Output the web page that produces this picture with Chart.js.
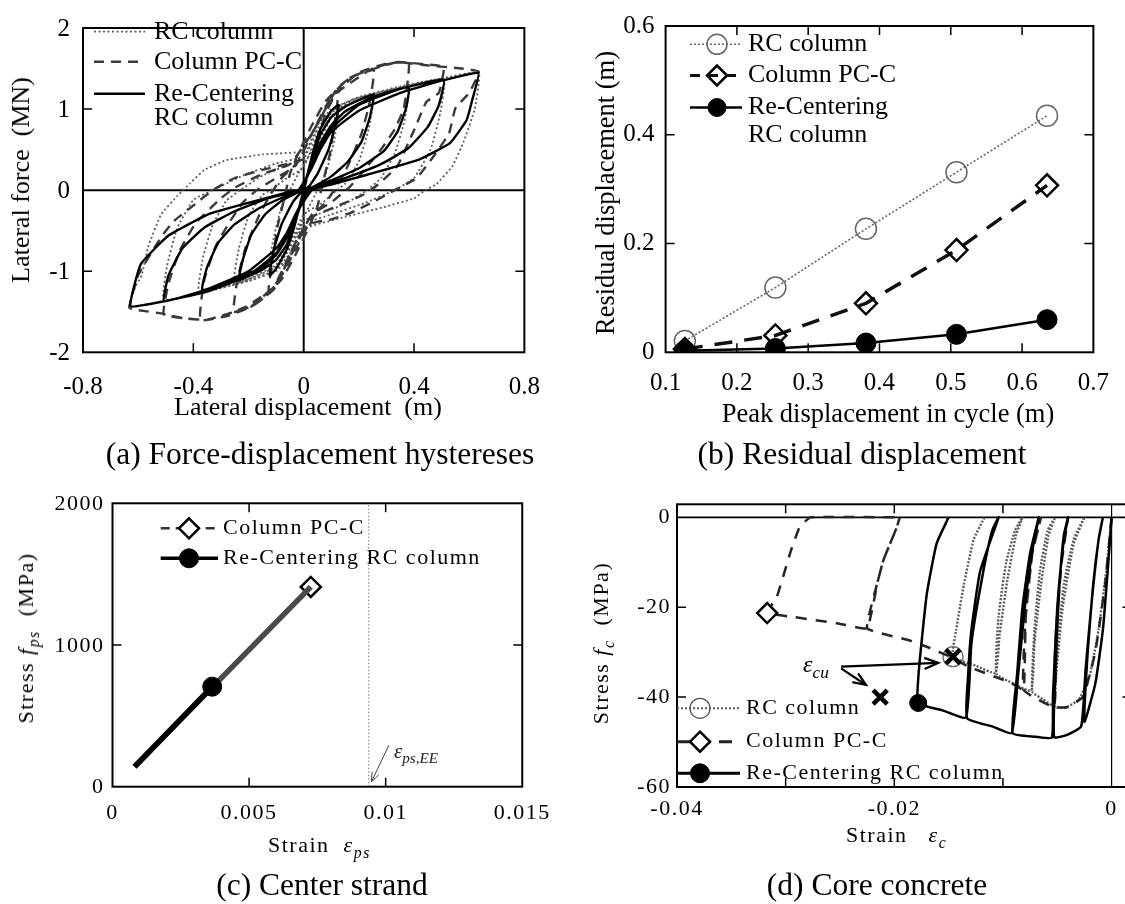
<!DOCTYPE html>
<html><head><meta charset="utf-8">
<script src="https://cdn.jsdelivr.net/npm/chart.js@4.4.1/dist/chart.umd.min.js"></script>
<style>
html,body{margin:0;padding:0;background:#fff;overflow:hidden;width:1125px;height:904px;}
#wrap{position:relative;width:1125px;height:904px;overflow:hidden;font-family:'Liberation Serif','Times New Roman',serif;color:#000;}
canvas{position:absolute;}
.t{position:absolute;white-space:nowrap;transform:translate(-50%,-50%);line-height:1;}
.r{transform:translate(-50%,-50%) rotate(-90deg);}
.l{transform:translate(0,-50%);}
.sp{letter-spacing:1.5px;}
sub{font-size:0.72em;vertical-align:-0.35em;line-height:0;}
</style></head><body><div id="wrap">
<canvas id="ca" width="560" height="440" style="left:0;top:0"></canvas>
<canvas id="cb" width="565" height="440" style="left:560px;top:0"></canvas>
<canvas id="cc" width="560" height="464" style="left:0;top:440px"></canvas>
<canvas id="cd" width="620" height="464" style="left:560px;top:440px"></canvas>

<div class="t r" style="left:21px;top:180px;font-size:26px">Lateral force&nbsp;&nbsp;(MN)</div>
<div class="t" style="left:308px;top:407px;font-size:26px">Lateral displacement&nbsp;&nbsp;(m)</div>
<div class="t" style="left:320px;top:454px;font-size:31.5px">(a) Force-displacement hystereses</div>

<div class="t r" style="left:605px;top:193px;font-size:26.5px">Residual displacement (m)</div>
<div class="t" style="left:888px;top:413px;font-size:26.5px">Peak displacement in cycle (m)</div>
<div class="t" style="left:862px;top:454px;font-size:31.5px">(b) Residual displacement</div>

<div class="t r sp" style="left:26px;top:638px;font-size:22px">Stress <i>f</i><sub><i>ps</i></sub>&nbsp;&nbsp;(MPa)</div>
<div class="t l sp" style="left:268px;top:845px;font-size:22px">Strain&nbsp;&nbsp;<i>ε</i><sub><i>ps</i></sub></div>
<div class="t" style="left:322px;top:885px;font-size:31.5px">(c) Center strand</div>
<div class="t l" style="left:394px;top:751px;font-size:21px;color:#222"><i>ε</i><sub><i>ps,EE</i></sub></div>

<div class="t r sp" style="left:601px;top:643px;font-size:22px">Stress <i>f</i><sub><i>c</i></sub>&nbsp;&nbsp;(MPa)</div>
<div class="t l sp" style="left:846px;top:835px;font-size:22px">Strain&nbsp;&nbsp;&nbsp;<i>ε</i><sub><i>c</i></sub></div>
<div class="t" style="left:877px;top:885px;font-size:31.5px">(d) Core concrete</div>
<div class="t l" style="left:803px;top:664px;font-size:24px"><i>ε</i><sub><i>cu</i></sub></div>
</div>
<script>
// ---------------- DATA ----------------
// (a) tick values / labels
const aXTicks = [-0.8, -0.4, 0, 0.4, 0.8];
const aXLabels = ['-0.8', '-0.4', '0', '0.4', '0.8'];
const aYTicks = [-2, -1, 0, 1, 2];
const aYLabels = ['-2', '-1', '0', '1', '2'];
// (a) hysteresis paths [displacement m, force MN]
const rccLoopA = [
[0,0],[0.03,0.42],[0.06,0.75],[0.1,0.98],[0.127,1.05],
[0.115,0.8],[0.09,0.5],[0.05,0.2],[0.02,0.05],[0,0],
[-0.03,-0.4],[-0.06,-0.72],[-0.1,-0.97],[-0.123,-1.05],
[-0.11,-0.75],[-0.08,-0.42],[-0.04,-0.15],[-0.005,0],
[0.03,0.38],[0.06,0.68],[0.1,0.9],[0.15,1.03],[0.2,1.11],[0.254,1.18],
[0.24,0.9],[0.21,0.6],[0.16,0.35],[0.1,0.17],[0.04,0.05],[0.008,0],
[-0.03,-0.38],[-0.06,-0.66],[-0.1,-0.86],[-0.15,-0.98],[-0.2,-1.06],[-0.236,-1.11],
[-0.22,-0.85],[-0.19,-0.55],[-0.14,-0.3],[-0.08,-0.13],[-0.01,0],
[0.03,0.32],[0.06,0.58],[0.1,0.8],[0.15,0.97],[0.25,1.15],[0.381,1.27],
[0.37,1.0],[0.34,0.72],[0.29,0.48],[0.2,0.27],[0.1,0.12],[0.015,0],
[-0.03,-0.32],[-0.06,-0.58],[-0.1,-0.8],[-0.15,-0.95],[-0.25,-1.1],[-0.368,-1.23],
[-0.35,-0.95],[-0.31,-0.65],[-0.25,-0.42],[-0.16,-0.22],[-0.07,-0.08],[-0.015,0],
[0.03,0.3],[0.06,0.52],[0.1,0.76],[0.2,1.05],[0.35,1.25],[0.508,1.36],
[0.49,1.05],[0.45,0.78],[0.38,0.52],[0.28,0.32],[0.16,0.16],[0.05,0.04],[0.02,0],
[-0.03,-0.3],[-0.06,-0.52],[-0.1,-0.72],[-0.2,-1.0],[-0.35,-1.22],[-0.506,-1.37],
[-0.49,-1.05],[-0.44,-0.72],[-0.36,-0.46],[-0.25,-0.26],[-0.13,-0.1],[-0.02,0],
[0.03,0.28],[0.06,0.5],[0.1,0.72],[0.2,0.98],[0.35,1.2],[0.5,1.35],[0.633,1.445],
[0.61,1.1],[0.59,0.86],[0.53,0.58],[0.42,0.38],[0.23,0.19],[0.1,0.07],[0.03,0],
[-0.03,-0.3],[-0.06,-0.55],[-0.1,-0.78],[-0.2,-1.05],[-0.35,-1.25],[-0.506,-1.37],[-0.628,-1.43],
[-0.59,-0.91],[-0.49,-0.56],[-0.34,-0.29],[-0.15,-0.11],[-0.03,0]
];
const pccLoopA = [
[0,0],[0.04,0.5],[0.08,0.95],[0.127,1.25],[0.115,0.9],[0.095,0.45],[0.07,0.1],[0.05,-0.2],[0.02,-0.45],
[-0.03,-0.8],[-0.08,-1.1],[-0.127,-1.25],[-0.115,-0.9],[-0.095,-0.45],[-0.07,-0.1],[-0.05,0.2],[-0.02,0.45],[0.03,0.8],
[0.08,1.1],[0.165,1.38],[0.254,1.48],[0.24,1.1],[0.21,0.7],[0.16,0.3],[0.12,0.05],[0.08,-0.15],[0.02,-0.35],
[-0.03,-0.7],[-0.1,-1.15],[-0.186,-1.43],[-0.254,-1.5],[-0.24,-1.1],[-0.21,-0.7],[-0.16,-0.3],[-0.12,-0.05],[-0.08,0.15],[-0.02,0.35],[0.03,0.7],
[0.1,1.15],[0.2,1.45],[0.3,1.56],[0.381,1.57],[0.363,1.01],[0.33,0.75],[0.28,0.5],[0.22,0.25],[0.17,0.05],[0.1,-0.15],[0.03,-0.3],
[-0.03,-0.65],[-0.11,-1.23],[-0.2,-1.45],[-0.274,-1.55],[-0.375,-1.6],[-0.36,-1.1],[-0.32,-0.7],[-0.27,-0.4],[-0.22,-0.15],[-0.17,0],[-0.1,0.15],[-0.03,0.3],[0.03,0.7],
[0.12,1.2],[0.25,1.5],[0.34,1.58],[0.445,1.55],[0.508,1.52],[0.49,1.2],[0.445,1.09],[0.4,0.74],[0.34,0.3],[0.27,0.07],[0.22,-0.05],[0.12,-0.2],[0.03,-0.33],
[-0.03,-0.65],[-0.11,-1.2],[-0.21,-1.44],[-0.27,-1.52],[-0.353,-1.6],[-0.435,-1.58],[-0.508,-1.53],[-0.49,-1.15],[-0.45,-0.75],[-0.39,-0.4],[-0.3,-0.1],[-0.25,0.03],[-0.15,0.2],[-0.05,0.32],[0.03,0.7],
[0.12,1.25],[0.175,1.4],[0.257,1.5],[0.34,1.58],[0.445,1.54],[0.573,1.5],[0.635,1.46],[0.6,1.2],[0.55,1.01],[0.527,0.7],[0.48,0.46],[0.41,0.15],[0.33,0],[0.25,-0.15],[0.17,-0.28],[0.1,-0.36],[0.02,-0.42],
[-0.04,-0.8],[-0.11,-1.23],[-0.186,-1.43],[-0.27,-1.52],[-0.353,-1.6],[-0.435,-1.58],[-0.517,-1.52],[-0.6,-1.48],[-0.632,-1.45],[-0.6,-1.05],[-0.517,-0.58],[-0.47,-0.38],[-0.4,-0.19],[-0.33,0],[-0.25,0.15],[-0.15,0.25],[-0.05,0.33],[0,0.38]
];
const rcLoopA = [
[0,0],[0.05,0.55],[0.1,0.9],[0.127,1.0],[0.11,0.6],[0.08,0.2],[0.05,0],[0.02,-0.2],[-0.03,-0.55],[-0.08,-0.88],[-0.127,-1.0],[-0.11,-0.6],[-0.08,-0.2],[-0.05,0],[-0.02,0.2],
[0.05,0.6],[0.1,0.92],[0.19,1.1],[0.254,1.17],[0.235,0.75],[0.2,0.35],[0.15,0.08],[0.12,0],[0.07,-0.15],[0,-0.3],[-0.05,-0.65],[-0.1,-0.92],[-0.19,-1.08],[-0.254,-1.15],[-0.235,-0.72],[-0.2,-0.32],[-0.15,-0.06],[-0.12,0],[-0.06,0.15],[0,0.28],
[0.05,0.7],[0.1,0.95],[0.19,1.13],[0.3,1.22],[0.381,1.27],[0.365,0.85],[0.33,0.45],[0.28,0.15],[0.23,0],[0.15,-0.17],[0.05,-0.3],[0,-0.38],[-0.05,-0.72],[-0.1,-0.95],[-0.2,-1.1],[-0.3,-1.2],[-0.381,-1.25],[-0.365,-0.83],[-0.33,-0.43],[-0.28,-0.13],[-0.23,0],[-0.15,0.18],[-0.05,0.32],[0,0.38],
[0.05,0.75],[0.1,0.98],[0.19,1.14],[0.35,1.28],[0.508,1.37],[0.495,0.95],[0.46,0.5],[0.4,0.15],[0.33,0],[0.22,-0.16],[0.1,-0.3],[0,-0.42],[-0.05,-0.78],[-0.1,-0.98],[-0.2,-1.12],[-0.35,-1.25],[-0.508,-1.36],[-0.495,-0.93],[-0.46,-0.48],[-0.4,-0.12],[-0.33,0],[-0.22,0.18],[-0.1,0.33],[0,0.42],
[0.05,0.8],[0.1,1.0],[0.19,1.13],[0.35,1.27],[0.5,1.38],[0.635,1.45],[0.62,1.0],[0.58,0.6],[0.54,0.3],[0.48,0.07],[0.44,0],[0.4,-0.1],[0.29,-0.21],[0.15,-0.33],[0,-0.48],
[-0.05,-0.82],[-0.1,-1.0],[-0.2,-1.12],[-0.35,-1.25],[-0.5,-1.36],[-0.632,-1.44],[-0.61,-1.19],[-0.587,-1.05],[-0.564,-0.7],[-0.517,-0.3],[-0.458,-0.07],[-0.41,0.09],[-0.36,0.25],[-0.28,0.37],[-0.15,0.44],[0,0.47]
];

// (b) residual displacement
const bXTicks = [0.1, 0.2, 0.3, 0.4, 0.5, 0.6, 0.7];
const bXLabels = ['0.1', '0.2', '0.3', '0.4', '0.5', '0.6', '0.7'];
const bYTicks = [0, 0.2, 0.4, 0.6];
const bYLabels = ['0', '0.2', '0.4', '0.6'];
const bPeak = [0.127, 0.254, 0.381, 0.508, 0.635];
const bResRC = [0.021, 0.119, 0.227, 0.331, 0.435];
const bResPCC = [0.006, 0.031, 0.09, 0.188, 0.307];
const bResRCC = [0.003, 0.007, 0.017, 0.033, 0.06];

// (c) center strand
const cXTicks = [0, 0.005, 0.01, 0.015];
const cXLabels = ['0', '0.005', '0.01', '0.015'];
const cYTicks = [0, 1000, 2000];
const cYLabels = ['0', '1000', '2000'];
const cStrainPCC = [0.00081, 0.00726];
const cStressPCC = [143, 1410];
const cStrainRCC = [0.00081, 0.00365];
const cStressRCC = [140, 706];
const cStrainEE = 0.00938;

// (d) core concrete [strain, stress MPa]
const dXTicks = [-0.04, -0.02, 0];
const dXLabels = ['-0.04', '-0.02', '0'];
const dYTicks = [-60, -40, -20, 0];
const dYLabels = ['-60', '-40', '-20', '0'];
const rccPathD = [
[0,0],[-0.0003,-10],[-0.0008,-25],[-0.0015,-37],[-0.0025,-45.5],
[-0.0022,-30],[-0.0017,-15],[-0.0012,-5],[-0.0008,0],
[-0.0012,-5],[-0.0018,-18],[-0.0024,-34],[-0.0028,-46.5],[-0.0041,-48.4],[-0.0053,-48.9],
[-0.0051,-30],[-0.0048,-15],[-0.0044,-4],[-0.004,0],
[-0.0044,-5],[-0.005,-20],[-0.0054,-40],[-0.0055,-49],[-0.007,-48.8],[-0.0091,-48],
[-0.0087,-35],[-0.0082,-20],[-0.0075,-8],[-0.0067,0],
[-0.0072,-6],[-0.0079,-18],[-0.0086,-35],[-0.0092,-48],[-0.011,-46.5],[-0.0133,-44.7],
[-0.0132,-35],[-0.0129,-25],[-0.0121,-12],[-0.0104,0],
[-0.011,-3],[-0.0119,-13.2],[-0.0129,-28],[-0.0134,-44.5],[-0.0155,-43],[-0.0178,-41.3],
[-0.0178,-36],[-0.0175,-28],[-0.017,-16.9],[-0.0161,-5.8],[-0.015,0]
];
const rcPathD = [
[0,0],[-0.0005,-12],[-0.0012,-25],[-0.002,-35],[-0.003,-40.5],[-0.0042,-42.3],[-0.0052,-42.2],
[-0.005,-30],[-0.0044,-15],[-0.0035,-5],[-0.0025,0],
[-0.0035,-6],[-0.0045,-20],[-0.0051,-35],[-0.0053,-42],[-0.0063,-40.5],[-0.0073,-38.8],
[-0.0071,-25],[-0.0066,-12],[-0.0059,-3],[-0.0052,0],
[-0.0058,-4],[-0.0065,-15],[-0.0071,-28],[-0.0074,-38.6],[-0.009,-37],[-0.0106,-34.8],
[-0.0104,-22],[-0.0097,-10],[-0.0089,-3],[-0.0082,0],
[-0.0088,-4],[-0.0096,-14],[-0.0103,-26],[-0.0107,-34.6],[-0.0125,-33],[-0.0146,-31],
[-0.0143,-25],[-0.0136,-15],[-0.0127,-5],[-0.0117,0]
];
const pccPathD = [
[0,0],[-0.0006,-15],[-0.0015,-30],[-0.0026,-39.9],[-0.004,-42.2],[-0.0053,-42.1],
[-0.0051,-25],[-0.0046,-10],[-0.004,0],[-0.0046,-10],[-0.0051,-25],[-0.0053,-42.1],
[-0.0081,-38.4],[-0.0079,-22],[-0.0073,-8],[-0.0065,0],[-0.0073,-8],[-0.0079,-22],[-0.0081,-38.4],
[-0.0092,-36.9],[-0.0132,-33.2],[-0.0146,-31.3],[-0.0169,-28.9],[-0.0187,-27.3],[-0.0225,-24.7],
[-0.0215,-14],[-0.021,-9.5],[-0.0198,-2.4],[-0.0195,0],[-0.0198,-2.4],[-0.021,-9.5],[-0.0215,-14],[-0.0225,-24.7],
[-0.0252,-23.6],[-0.0295,-22.1],[-0.0317,-21.3],
[-0.0308,-17.6],[-0.0295,-7.3],[-0.0287,-2.1],[-0.0277,0],[-0.0195,0]
];
const dEndRC = [-0.0146, -31];
const dEndPCC = [-0.0317, -21.3];
const dEndRCC = [-0.0178, -41.3];
const dUltimate = [[-0.0213, -40], [-0.0146, -31]];

// ---------------- HELPERS ----------------
const FONT = "'Liberation Serif','Times New Roman',serif";
Chart.defaults.font.family = FONT;
Chart.defaults.color = '#000';
const xy = arr => arr.map(p => ({x: p[0], y: p[1]}));

function axis(kind, o) {
  return {
    type: 'linear', min: o.min, max: o.max, offset: false,
    grid: {display: false, drawTicks: false}, border: {display: false},
    afterBuildTicks: s => { s.ticks = o.ticks.map(v => ({value: v})); },
    afterFit: s => { if (kind === 'x') s.height = o.size; else s.width = o.size; },
    ticks: {
      autoSkip: false, maxRotation: 0, minRotation: 0, padding: o.pad, labelOffset: o.lo || 0,
      color: '#000', font: {family: FONT, size: o.fs},
      callback: (v, i) => o.labels[i]
    }
  };
}

function drawMarker(ctx, m, x, y) {
  ctx.save(); ctx.setLineDash([]);
  ctx.lineWidth = m.bw; ctx.strokeStyle = m.stroke;
  ctx.beginPath();
  if (m.shape === 'circle') ctx.arc(x, y, m.r, 0, Math.PI * 2);
  else { ctx.moveTo(x, y - m.r); ctx.lineTo(x + m.r, y); ctx.lineTo(x, y + m.r); ctx.lineTo(x - m.r, y); ctx.closePath(); }
  if (m.fill) { ctx.fillStyle = m.fill; ctx.fill(); }
  ctx.stroke(); ctx.restore();
}

function arrow(ctx, x1, y1, x2, y2, head, width, color) {
  ctx.save(); ctx.strokeStyle = color; ctx.lineWidth = width; ctx.setLineDash([]);
  ctx.beginPath(); ctx.moveTo(x1, y1); ctx.lineTo(x2, y2); ctx.stroke();
  const a = Math.atan2(y2 - y1, x2 - x1);
  ctx.beginPath();
  ctx.moveTo(x2 - head * Math.cos(a - 0.38), y2 - head * Math.sin(a - 0.38));
  ctx.lineTo(x2, y2);
  ctx.lineTo(x2 - head * Math.cos(a + 0.38), y2 - head * Math.sin(a + 0.38));
  ctx.stroke(); ctx.restore();
}

const spacingPlugin = { id: 'spacing', beforeDraw(chart, a, o) { chart.ctx.letterSpacing = o.ls || '0px'; } };

const framePlugin = {
  id: 'frame',
  beforeDatasetsDraw(chart, args, o) {
    const {ctx, chartArea: c, scales: {x, y}} = chart;
    ctx.save(); ctx.strokeStyle = '#000'; ctx.setLineDash([]);
    if (o.zeroX) { ctx.lineWidth = o.zeroX; const p = x.getPixelForValue(0); ctx.beginPath(); ctx.moveTo(p, c.top); ctx.lineTo(p, c.bottom); ctx.stroke(); }
    if (o.zeroY) { ctx.lineWidth = o.zeroY; const p = y.getPixelForValue(0); ctx.beginPath(); ctx.moveTo(c.left, p); ctx.lineTo(c.right, p); ctx.stroke(); }
    ctx.restore();
  },
  afterDatasetsDraw(chart, args, o) {
    const {ctx, chartArea: c, scales: {x, y}} = chart;
    const L = o.tick || 9;
    const R = o.rTick || L;
    ctx.save(); ctx.strokeStyle = '#000'; ctx.setLineDash([]);
    ctx.lineWidth = o.lw || 2;
    ctx.strokeRect(c.left, c.top, c.right - c.left, c.bottom - c.top);
    ctx.lineWidth = o.tw || 1.5;
    ctx.beginPath();
    (o.xMinor || []).forEach(v => { const p = x.getPixelForValue(v);
      ctx.moveTo(p, c.bottom); ctx.lineTo(p, c.bottom - L); ctx.moveTo(p, c.top); ctx.lineTo(p, c.top + L); });
    (o.yMinor || []).forEach(v => { const p = y.getPixelForValue(v);
      ctx.moveTo(c.left, p); ctx.lineTo(c.left + L, p); ctx.moveTo(c.right, p); ctx.lineTo(c.right - R, p); });
    ctx.stroke();
    ctx.restore();
  }
};

const keyPlugin = {
  id: 'keyBox',
  afterDraw(chart, args, o) {
    if (!o.items) return;
    const ctx = chart.ctx; ctx.save();
    ctx.letterSpacing = o.ls || '0px';
    o.items.forEach(it => {
      ctx.save(); ctx.strokeStyle = it.color; ctx.lineWidth = it.width; ctx.setLineDash(it.dash || []);
      ctx.beginPath(); ctx.moveTo(o.x0, it.y); ctx.lineTo(o.x1, it.y); ctx.stroke(); ctx.restore();
      if (it.marker) drawMarker(ctx, it.marker, o.xm, it.y);
      ctx.fillStyle = '#000'; ctx.font = o.fs + 'px ' + FONT; ctx.textBaseline = 'middle'; ctx.textAlign = 'left';
      it.text.forEach((t, k) => ctx.fillText(t, o.xt, it.y + k * o.lh));
    });
    ctx.restore();
  }
};

const notePlugin = {
  id: 'notes',
  afterDatasetsDraw(chart, args, o) {
    if (!o.arrows) return;
    const {ctx, scales: {x, y}} = chart;
    o.arrows.forEach(a => arrow(ctx, x.getPixelForValue(a.from[0]), y.getPixelForValue(a.from[1]),
      x.getPixelForValue(a.to[0]), y.getPixelForValue(a.to[1]), a.head, a.width, a.color));
  }
};

const PLUGINS = [spacingPlugin, framePlugin, notePlugin, keyPlugin];
function baseOptions(pad, xs, ys, plugins) {
  return {
    responsive: false, animation: false, devicePixelRatio: 1, events: [],
    layout: {padding: pad},
    scales: {x: xs, y: ys},
    plugins: Object.assign({legend: {display: false}, tooltip: {enabled: false}}, plugins)
  };
}
const lineDs = (data, color, width, dash, extra) => Object.assign({
  data, showLine: true, borderColor: color, borderWidth: width, borderDash: dash,
  pointRadius: 0, fill: false, tension: 0.12
}, extra || {});

// ---------------- (a) ----------------
new Chart(document.getElementById('ca'), {
  type: 'scatter',
  data: {datasets: [
    lineDs(xy(rccLoopA), '#000', 2.4, []),
    lineDs(xy(pccLoopA), '#3a3a3a', 2.4, [10, 7]),
    lineDs(xy(rcLoopA), '#5c5c5c', 1.8, [2, 2.5])
  ]},
  options: baseOptions({left: 0, top: 12.7, right: 22.5, bottom: 0},
    axis('x', {min: -0.8, max: 0.8, ticks: aXTicks, labels: aXLabels, size: 87.7, pad: 20, fs: 25}),
    axis('y', {min: -2, max: 2, ticks: aYTicks, labels: aYLabels, size: 83, pad: 13, fs: 25, lo: 1}),
    {
      frame: {xMinor: [-0.4, 0.4], yMinor: [-1, 1], zeroX: 2, zeroY: 2},
      keyBox: {x0: 94, x1: 145, xm: 120, xt: 154, fs: 26, lh: 24.5, items: [
        {y: 31.7, text: ['RC column'], color: '#5c5c5c', width: 1.8, dash: [2, 2.5]},
        {y: 61.7, text: ['Column PC-C'], color: '#3a3a3a', width: 2.4, dash: [10, 7]},
        {y: 93.8, text: ['Re-Centering', 'RC column'], color: '#000', width: 2.4, dash: []}
      ]}
    }),
  plugins: PLUGINS
});

// ---------------- (b) ----------------
const bPts = arr => bPeak.map((x, i) => ({x, y: arr[i]}));
new Chart(document.getElementById('cb'), {
  type: 'scatter',
  data: {datasets: [
    lineDs(bPts(bResRCC), '#000', 2.5, [], {tension: 0, pointRadius: 10, pointStyle: 'circle', pointBackgroundColor: '#000', pointBorderColor: '#000', pointBorderWidth: 1}),
    lineDs(bPts(bResPCC), '#111', 3.5, [18, 12], {tension: 0, pointRadius: 11, pointStyle: 'rectRot', pointBackgroundColor: 'rgba(0,0,0,0)', pointBorderColor: '#000', pointBorderWidth: 2.5}),
    lineDs(bPts(bResRC), '#666', 1.6, [2, 2], {tension: 0, pointRadius: 10.5, pointStyle: 'circle', pointBackgroundColor: 'rgba(0,0,0,0)', pointBorderColor: '#666', pointBorderWidth: 1.5})
  ]},
  options: baseOptions({left: 0, top: 12.7, right: 25.5, bottom: 0},
    axis('x', {min: 0.1, max: 0.7, ticks: bXTicks, labels: bXLabels, size: 87.7, pad: 16, fs: 25}),
    axis('y', {min: 0, max: 0.6, ticks: bYTicks, labels: bYLabels, size: 105.6, pad: 11, fs: 25}),
    {
      frame: {xMinor: [0.2, 0.3, 0.4, 0.5, 0.6], yMinor: [0.2, 0.4]},
      keyBox: {x0: 130, x1: 182, xm: 157, xt: 188, fs: 26, lh: 28, items: [
        {y: 44.3, text: ['RC column'], color: '#666', width: 1.6, dash: [2, 2], marker: {shape: 'circle', r: 10, bw: 1.5, stroke: '#666'}},
        {y: 75.5, text: ['Column PC-C'], color: '#111', width: 3, dash: [10, 8], marker: {shape: 'diamond', r: 10, bw: 2.5, stroke: '#000'}},
        {y: 107.5, text: ['Re-Centering', 'RC column'], color: '#000', width: 2.5, dash: [], marker: {shape: 'circle', r: 9, bw: 1, stroke: '#000', fill: '#000'}}
      ]}
    }),
  plugins: PLUGINS
});

// ---------------- (c) ----------------
const cPts = (xs, ys) => xs.map((x, i) => ({x, y: ys[i]}));
new Chart(document.getElementById('cc'), {
  type: 'scatter',
  data: {datasets: [
    lineDs(cPts(cStrainRCC, cStressRCC), '#000', 5.5, [], {tension: 0}),
    {data: [cPts(cStrainRCC, cStressRCC)[1]], pointRadius: 9.5, pointStyle: 'circle', pointBackgroundColor: '#000', pointBorderColor: '#000', pointBorderWidth: 1},
    lineDs(cPts(cStrainPCC, cStressPCC), '#4a4a4a', 5.5, [], {tension: 0}),
    {data: [cPts(cStrainPCC, cStressPCC)[1]], pointRadius: 10, pointStyle: 'rectRot', pointBackgroundColor: '#fff', pointBorderColor: '#000', pointBorderWidth: 2.5},
    lineDs([{x: cStrainEE, y: 0}, {x: cStrainEE, y: 2000}], '#777', 1, [1.5, 2], {tension: 0})
  ]},
  options: baseOptions({left: 0, top: 63.3, right: 32, bottom: 0},
    axis('x', {min: 0, max: 0.015, ticks: cXTicks, labels: cXLabels, size: 117.3, pad: 13, fs: 22}),
    axis('y', {min: 0, max: 2000, ticks: cYTicks, labels: cYLabels, size: 112.5, pad: 8, fs: 22, lo: 1}),
    {
      spacing: {ls: '1.5px'},
      frame: {xMinor: [0.005, 0.01], yMinor: [1000], tick: 9},
      notes: {arrows: [{from: [0.01012, 294], to: [0.00948, 35], head: 10, width: 1, color: '#444'}]},
      keyBox: {x0: 160.7, x1: 218, xm: 189, xt: 223, fs: 22, lh: 30, ls: '1.5px', items: [
        {y: 88.3, text: ['Column PC-C'], color: '#333', width: 2.5, dash: [9, 6], marker: {shape: 'diamond', r: 10, bw: 2.5, stroke: '#000', fill: '#fff'}},
        {y: 118.3, text: ['Re-Centering RC column'], color: '#000', width: 3.5, dash: [], marker: {shape: 'circle', r: 9.5, bw: 1, stroke: '#000', fill: '#000'}}
      ]}
    }),
  plugins: PLUGINS
});

// ---------------- (d) ----------------
const pt = p => [{x: p[0], y: p[1]}];
new Chart(document.getElementById('cd'), {
  type: 'scatter',
  data: {datasets: [
    {data: xy(dUltimate), pointRadius: 10, pointStyle: 'crossRot', pointBorderColor: '#000', pointBorderWidth: 4.5},
    {data: pt(dEndRCC), pointRadius: 8.5, pointStyle: 'circle', pointBackgroundColor: '#000', pointBorderColor: '#000', pointBorderWidth: 1},
    lineDs(xy(rccPathD), '#000', 2.5, [], {tension: 0.15}),
    {data: pt(dEndPCC), pointRadius: 10, pointStyle: 'rectRot', pointBackgroundColor: '#fff', pointBorderColor: '#000', pointBorderWidth: 2.5},
    lineDs(xy(pccPathD), '#262626', 2.5, [11, 9], {tension: 0.1}),
    {data: pt(dEndRC), pointRadius: 10, pointStyle: 'circle', pointBackgroundColor: 'rgba(0,0,0,0)', pointBorderColor: '#666', pointBorderWidth: 1.3},
    lineDs(xy(rcPathD), '#5a5a5a', 2.4, [2, 1.6], {tension: 0.15})
  ]},
  options: baseOptions({left: 0, top: 64.3, right: 44.5, bottom: 0},
    axis('x', {min: -0.04, max: 0.0022, ticks: dXTicks, labels: dXLabels, size: 117, pad: 9, fs: 22}),
    axis('y', {min: -60, max: 2.9, ticks: dYTicks, labels: dYLabels, size: 117, pad: 6, fs: 22}),
    {
      spacing: {ls: '1.5px'},
      frame: {xMinor: [-0.03, -0.02, -0.01], yMinor: [-40, -20], zeroX: 1.2, zeroY: 1.6, tick: 9, rTick: 13},
      notes: {arrows: [
        {from: [-0.0249, -33.2], to: [-0.01595, -32.4], head: 15, width: 2.2, color: '#000'},
        {from: [-0.0249, -33.6], to: [-0.0226, -37.3], head: 14, width: 2.2, color: '#000'}
      ]},
      keyBox: {x0: 117, x1: 180, xm: 140, xt: 186, fs: 22, lh: 30, ls: '1.5px', items: [
        {y: 268.3, text: ['RC column'], color: '#5a5a5a', width: 2, dash: [2, 2], marker: {shape: 'circle', r: 10, bw: 1.3, stroke: '#555'}},
        {y: 301.7, text: ['Column PC-C'], color: '#222', width: 3, dash: [13, 8], marker: {shape: 'diamond', r: 10, bw: 2.5, stroke: '#000', fill: '#fff'}},
        {y: 333.3, text: ['Re-Centering RC column'], color: '#000', width: 3, dash: [], marker: {shape: 'circle', r: 9.5, bw: 1, stroke: '#000', fill: '#000'}}
      ]}
    }),
  plugins: PLUGINS
});
</script>
</body></html>
